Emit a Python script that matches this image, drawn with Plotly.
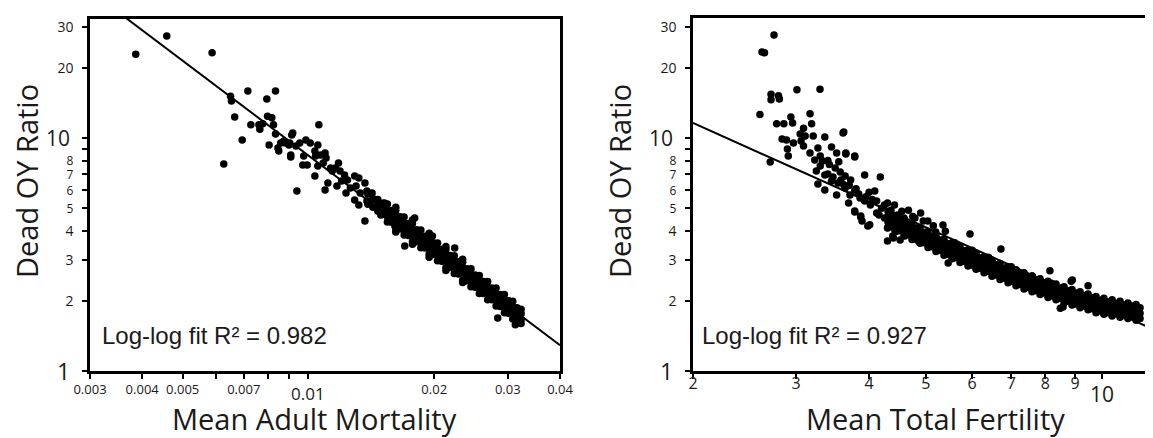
import math
import plotly.graph_objects as go

# ------------------------------------------------------------------ data
# Left panel: Mean Adult Mortality vs Dead OY Ratio (individually read points)
mort_x = [0.00386, 0.00458, 0.00588, 0.00627, 0.00651, 0.00654, 0.00666, 0.00694, 0.00716, 0.00728,
          0.00761, 0.00765, 0.00777, 0.00795, 0.00798, 0.00817, 0.00825, 0.00834, 0.00834, 0.00805,
          0.00849, 0.00858, 0.00880, 0.00907, 0.00907, 0.00912, 0.00898, 0.00938, 0.00933, 0.00845,
          0.00873, 0.00917, 0.00902, 0.00953, 0.00986, 0.01010, 0.00969, 0.00993, 0.00974, 0.01036,
          0.01053, 0.01059, 0.01036, 0.01040, 0.01069, 0.01096, 0.01102, 0.01085, 0.01053, 0.01096,
          0.01113, 0.01130, 0.01140, 0.01160, 0.01180, 0.01190, 0.01220, 0.01200, 0.01170, 0.01240,
          0.01290, 0.01320, 0.01365, 0.01300, 0.01260, 0.01230, 0.01330, 0.01380, 0.01420, 0.01290,
          0.01320, 0.01380, 0.01430, 0.01470, 0.01520, 0.01550, 0.01590, 0.01630, 0.01610, 0.01700,
          0.01490, 0.01550, 0.01660, 0.01387, 0.01387, 0.01426, 0.01426, 0.01466, 0.01466, 0.01466,
          0.01507, 0.01507, 0.01507, 0.01700, 0.02239, 0.02838, 0.03127, 0.01796, 0.01980, 0.01365]
mort_y = [22.9, 27.4, 23.2, 7.73, 15.1, 14.4, 12.3, 9.80, 15.9, 11.4,
          11.4, 10.9, 11.5, 14.7, 12.4, 12.2, 11.4, 15.9, 10.4, 9.33,
          8.80, 9.52, 9.52, 8.45, 8.29, 10.3, 9.33, 5.92, 9.24, 9.06,
          9.71, 10.5, 9.52, 9.52, 9.80, 9.52, 7.66, 7.66, 8.37, 8.80,
          9.33, 11.4, 6.87, 8.37, 8.45, 8.63, 8.21, 7.81, 7.59, 5.98,
          6.41, 7.43, 7.22, 7.43, 7.81, 7.22, 6.94, 6.54, 6.22, 6.60,
          6.87, 6.74, 6.41, 6.22, 6.10, 5.80, 5.80, 5.92, 5.80, 5.42,
          5.16, 5.37, 5.42, 5.01, 5.26, 4.90, 4.77, 4.54, 4.19, 4.11,
          4.67, 4.54, 4.40, 5.20, 5.75, 5.05, 5.50, 4.85, 5.15, 5.45,
          4.70, 4.95, 5.25, 3.44, 3.37, 1.69, 1.58, 4.54, 3.80, 4.40]

# Left panel: dense band, one x per column with the y values read in that column
mort_band_x = [0.01545, 0.01581, 0.01618, 0.01656, 0.01694, 0.01734, 0.01774, 0.01816, 0.01858, 0.01901,
               0.01945, 0.01990, 0.02037, 0.02084, 0.02133, 0.02183, 0.02234, 0.02286, 0.02339, 0.02393,
               0.02449, 0.02506, 0.02564, 0.02624, 0.02685, 0.02748, 0.02812, 0.02877, 0.02944, 0.03013,
               0.03083, 0.03155, 0.03228]
mort_band_y = [[4.36, 4.63, 4.91, 5.21], [4.35, 4.61, 4.89], [3.95, 4.09, 4.34, 4.60, 4.88, 5.05], [4.07, 4.33, 4.59],
               [3.83, 4.07, 4.31, 4.58], [3.82, 4.06, 4.30], [3.50, 3.60, 3.82, 4.05, 4.30, 4.45], [3.59, 3.81, 4.04],
               [3.38, 3.58, 3.80, 4.03], [3.37, 3.57, 3.79], [3.08, 3.17, 3.36, 3.56, 3.78, 3.90], [3.16, 3.35, 3.55],
               [2.97, 3.15, 3.34, 3.54], [2.96, 3.14, 3.33], [2.70, 2.78, 2.95, 3.13, 3.32, 3.42], [2.78, 2.95, 3.13],
               [2.62, 2.78, 2.94, 3.12], [2.61, 2.77, 2.94], [2.40, 2.45, 2.60, 2.76, 2.93, 3.02], [2.44, 2.59, 2.75],
               [2.30, 2.44, 2.59, 2.75], [2.29, 2.43, 2.58], [2.15, 2.29, 2.43, 2.57], [2.15, 2.28, 2.42],
               [2.02, 2.15, 2.28, 2.42], [2.02, 2.14, 2.27], [1.90, 2.01, 2.14, 2.27], [1.89, 2.01, 2.13],
               [1.78, 1.89, 2.00, 2.13], [1.77, 1.88, 2.00], [1.67, 1.77, 1.88, 1.99], [1.66, 1.77, 1.87],
               [1.60, 1.66, 1.76, 1.84]]
mort_fit_x = [0.0035, 0.04]
mort_fit_y = [34.75, 1.29]

# Right panel: Mean Total Fertility vs Dead OY Ratio (individually read points)
tfr_x = [2.751, 2.624, 2.650, 3.011, 3.297, 2.719, 2.719, 2.800, 2.810, 2.603,
         2.710, 2.780, 2.860, 2.940, 2.960, 3.170, 3.190, 3.090, 3.050, 2.840,
         2.890, 2.900, 2.910, 2.970, 3.060, 3.090, 3.170, 3.110, 3.210, 3.360,
         3.610, 3.270, 3.230, 3.300, 3.330, 3.450, 3.520, 3.650, 3.780, 3.250,
         3.300, 3.360, 3.270, 3.360, 3.500, 3.570, 3.450, 3.540, 3.640, 3.720,
         3.930, 4.180, 3.640, 3.710, 3.780, 3.520, 3.690, 3.780, 3.870, 3.980,
         3.860, 3.930, 4.020, 4.090, 4.120, 4.250, 4.300, 4.420, 4.160, 4.250,
         4.300, 4.390, 4.360, 4.480, 4.590, 4.700, 4.830, 4.960, 3.620, 3.780,
         3.650, 3.780, 3.870, 4.010, 5.350, 5.950, 6.720, 8.150, 8.860, 8.580,
         5.040, 9.470, 8.900, 4.400, 5.460, 8.490, 3.890, 4.430, 4.300, 4.520,
         4.120, 4.670, 4.790, 4.900, 3.400, 3.470, 3.580, 3.620, 3.700, 3.800,
         3.840, 3.950, 4.050, 4.000, 4.200, 4.350, 3.420, 3.550, 3.400, 5.200,
         5.600, 6.000, 6.400, 7.000, 7.600, 8.200, 4.550, 4.750, 4.950, 5.150,
         5.400, 4.600, 4.850, 5.100]
tfr_y = [27.7, 23.4, 23.2, 16.1, 16.2, 15.4, 14.6, 15.2, 14.7, 12.6,
         7.89, 11.5, 11.5, 12.3, 11.6, 12.7, 11.5, 11.0, 10.4, 9.90,
         9.80, 8.97, 8.37, 9.52, 9.71, 9.24, 8.63, 10.2, 10.2, 10.1,
         10.5, 9.06, 8.05, 8.37, 7.97, 9.15, 8.63, 8.53, 8.37, 7.22,
         7.59, 6.94, 6.35, 5.98, 7.43, 7.15, 6.54, 6.41, 6.87, 6.60,
         6.94, 6.80, 6.10, 5.70, 5.92, 5.70, 5.26, 4.86, 4.63, 4.19,
         5.53, 5.37, 5.16, 5.92, 5.37, 5.16, 5.26, 5.16, 4.67, 4.54,
         4.11, 3.80, 4.90, 4.67, 4.54, 4.24, 4.11, 3.83, 10.6, 8.29,
         8.63, 4.81, 4.58, 4.24, 4.23, 3.87, 3.34, 2.69, 2.43, 1.88,
         4.40, 2.32, 2.46, 3.72, 2.91, 1.86, 4.40, 3.98, 3.61, 3.65,
         4.77, 4.90, 4.54, 4.77, 7.00, 6.80, 6.60, 6.30, 6.25, 6.05,
         5.75, 5.60, 5.45, 5.85, 5.00, 4.70, 7.70, 7.90, 8.00, 3.95,
         3.55, 3.30, 3.08, 2.80, 2.56, 2.38, 4.85, 4.60, 4.40, 4.20,
         3.98, 3.80, 3.62, 3.44]

# Right panel: dense band, one x per column with the y values read in that column
tfr_band_x = [4.309, 4.377, 4.447, 4.517, 4.589, 4.662, 4.736, 4.811, 4.887, 4.965,
              5.044, 5.124, 5.205, 5.288, 5.372, 5.457, 5.544, 5.632, 5.721, 5.812,
              5.904, 5.998, 6.093, 6.190, 6.288, 6.388, 6.489, 6.592, 6.697, 6.803,
              6.911, 7.021, 7.132, 7.245, 7.360, 7.477, 7.596, 7.716, 7.839, 7.963,
              8.089, 8.218, 8.348, 8.481, 8.615, 8.752, 8.891, 9.032, 9.175, 9.321,
              9.469, 9.619, 9.771, 9.926, 10.08, 10.24, 10.41, 10.57, 10.74, 10.91,
              11.08, 11.26, 11.44, 11.62]
tfr_band_y = [[4.13, 4.35, 4.59, 4.84], [4.16, 4.38, 4.62], [3.97, 4.18, 4.41, 4.65], [4.00, 4.21, 4.44],
              [3.82, 4.02, 4.24, 4.47], [3.84, 4.05, 4.27], [3.67, 3.87, 4.08, 4.29], [3.69, 3.89, 4.10],
              [3.53, 3.72, 3.92, 4.13], [3.55, 3.74, 3.94], [3.39, 3.57, 3.77, 3.97], [3.41, 3.60, 3.79],
              [3.26, 3.43, 3.62, 3.81], [3.29, 3.46, 3.65], [3.14, 3.31, 3.49, 3.68], [3.17, 3.34, 3.52],
              [3.03, 3.20, 3.37, 3.55], [3.06, 3.23, 3.40], [2.92, 3.08, 3.25, 3.42], [2.95, 3.11, 3.28],
              [2.82, 2.98, 3.14, 3.31], [2.85, 3.00, 3.17], [2.73, 2.88, 3.03, 3.20], [2.76, 2.91, 3.06],
              [2.64, 2.78, 2.93, 3.09], [2.67, 2.81, 2.96], [2.55, 2.69, 2.84, 2.99], [2.58, 2.72, 2.86],
              [2.47, 2.60, 2.74, 2.89], [2.50, 2.63, 2.77], [2.39, 2.52, 2.66, 2.80], [2.42, 2.55, 2.69],
              [2.32, 2.45, 2.58, 2.72], [2.35, 2.48, 2.61], [2.25, 2.37, 2.50, 2.64], [2.28, 2.40, 2.53],
              [2.19, 2.30, 2.43, 2.56], [2.21, 2.33, 2.46], [2.13, 2.24, 2.36, 2.49], [2.16, 2.27, 2.39],
              [2.07, 2.18, 2.30, 2.43], [2.10, 2.21, 2.33], [2.02, 2.13, 2.24, 2.36], [2.05, 2.16, 2.27],
              [1.96, 2.07, 2.18, 2.30], [1.99, 2.10, 2.21], [1.92, 2.02, 2.13, 2.24], [1.94, 2.05, 2.16],
              [1.87, 1.97, 2.08, 2.19], [1.90, 2.00, 2.11], [1.83, 1.93, 2.03, 2.14], [1.85, 1.95, 2.06],
              [1.78, 1.88, 1.98, 2.09], [1.81, 1.91, 2.01], [1.75, 1.84, 1.94, 2.05], [1.78, 1.88, 1.98],
              [1.72, 1.82, 1.92, 2.02], [1.76, 1.85, 1.95], [1.70, 1.79, 1.89, 1.99], [1.73, 1.83, 1.92],
              [1.68, 1.77, 1.86, 1.96], [1.71, 1.80, 1.90], [1.65, 1.74, 1.84, 1.93], [1.68, 1.77, 1.87]]
tfr_fit_x = [2.0, 12.62]
tfr_fit_y = [11.6, 1.46]

r2_mort = "0.982"
r2_tfr = "0.927"

# tick labels (the larger decade labels 1, 10, 0.01 and 10 are drawn as annotations)
y_tickvals = [1, 2, 3, 4, 5, 6, 7, 8, 9, 10, 20, 30]
y_ticktext = ['', '2', '3', '4',
              '<span style="font-size:12px">5</span>', '<span style="font-size:12px">6</span>',
              '<span style="font-size:12px">7</span>', '<span style="font-size:12px">8</span>', '',
              '', '20', '30']
y_big_vals = [1, 10]
y_big_text = ['1', '10']
y_big_size = [23, 21]
mort_tickvals = [0.003, 0.004, 0.005, 0.006, 0.007, 0.008, 0.009, 0.01, 0.02, 0.03, 0.04]
mort_ticktext = ['0.003', '0.004', '0.005', '', '0.007', '', '', '', '0.02', '0.03', '0.04']
tfr_tickvals = [2, 3, 4, 5, 6, 7, 8, 9, 10]
tfr_ticktext = ['2', '3', '4', '5', '6', '7', '8', '9', '']

# ------------------------------------------------------------------ figure
W, H = 1153, 438
FONT = "Open Sans"
INK = "#1a1a1a"


def flatten(xs, yss):
    fx, fy = [], []
    for x, ys in zip(xs, yss):
        for y in ys:
            fx.append(x)
            fy.append(y)
    return fx, fy


mbx, mby = flatten(mort_band_x, mort_band_y)
tbx, tby = flatten(tfr_band_x, tfr_band_y)

marker = dict(color="black", size=7.5, line=dict(width=0))

fig = go.Figure()
fig.add_trace(go.Scatter(x=mort_x + mbx, y=mort_y + mby, mode="markers", marker=marker,
                         xaxis="x", yaxis="y", showlegend=False))
fig.add_trace(go.Scatter(x=mort_fit_x, y=mort_fit_y, mode="lines", line=dict(color="black", width=2),
                         xaxis="x", yaxis="y", showlegend=False))
fig.add_trace(go.Scatter(x=tfr_x + tbx, y=tfr_y + tby, mode="markers", marker=marker,
                         xaxis="x2", yaxis="y2", showlegend=False))
fig.add_trace(go.Scatter(x=tfr_fit_x, y=tfr_fit_y, mode="lines", line=dict(color="black", width=2),
                         xaxis="x2", yaxis="y2", showlegend=False))

axis_common = dict(showgrid=False, zeroline=False, showline=True, linecolor="black", linewidth=2.5,
                   ticks="outside", ticklen=5, tickwidth=2, tickcolor="black", automargin=False,
                   tickfont=dict(family=FONT, size=14, color=INK))

fig.update_layout(
    template="none",
    width=W, height=H,
    margin=dict(l=0, r=0, t=0, b=0),
    paper_bgcolor="white", plot_bgcolor="white",
    showlegend=False,
    xaxis=dict(axis_common, type="log", domain=[82 / W, 552 / W], anchor="y", mirror=True,
               range=[math.log10(0.003), math.log10(0.04)],
               tickmode="array", tickvals=mort_tickvals, ticktext=mort_ticktext,
               tickfont=dict(family=FONT, size=13, color=INK)),
    yaxis=dict(axis_common, type="log", domain=[75 / H, 427 / H], anchor="x", mirror=True,
               range=[0, 1.5107], tickmode="array", tickvals=y_tickvals, ticktext=y_ticktext,
               ticklabelstandoff=6),
    xaxis2=dict(axis_common, type="log", domain=[685 / W, 1.0], anchor="y2", mirror=True,
                range=[math.log10(2), math.log10(2) + 0.8],
                tickmode="array", tickvals=tfr_tickvals, ticktext=tfr_ticktext,
                tickfont=dict(family=FONT, size=16, color=INK), ticklabelstandoff=-9),
    yaxis2=dict(axis_common, type="log", domain=[75 / H, 428 / H], anchor="x2", mirror=False,
                range=[0, 1.515], tickmode="array", tickvals=y_tickvals, ticktext=y_ticktext,
                ticklabelstandoff=6),
)

ann = []
title_font = dict(family=FONT, size=29, color=INK)
for xc in (19, 612):
    ann.append(dict(text="Dead OY Ratio", x=xc / W, y=(H - 173) / H, xref="paper", yref="paper",
                    textangle=-90, showarrow=False, font=title_font, xanchor="center", yanchor="middle",
                    borderpad=0))
ann.append(dict(text="Mean Adult Mortality", x=306 / W, y=(H - 410) / H, xref="paper", yref="paper",
                showarrow=False, font=title_font, xanchor="center", yanchor="middle"))
ann.append(dict(text="Mean Total Fertility", x=927 / W, y=(H - 410) / H, xref="paper", yref="paper",
                showarrow=False, font=title_font, xanchor="center", yanchor="middle"))
r2_font = dict(family="Liberation Sans", size=24, color=INK)
ann.append(dict(text="Log-log fit R² = " + r2_mort, x=92 / W, y=(H - 327) / H, xref="paper", yref="paper",
                showarrow=False, font=r2_font, xanchor="left", yanchor="middle"))
ann.append(dict(text="Log-log fit R² = " + r2_tfr, x=692 / W, y=(H - 327) / H, xref="paper", yref="paper",
                showarrow=False, font=r2_font, xanchor="left", yanchor="middle"))
# larger decade tick labels
ann.append(dict(text="0.01", x=math.log10(0.01), y=(H - 385) / H, xref="x", yref="paper",
                showarrow=False, font=dict(family=FONT, size=17, color=INK), xanchor="center", yanchor="middle"))
ann.append(dict(text="10", x=math.log10(10), y=(H - 386) / H, xref="x2", yref="paper",
                showarrow=False, font=dict(family=FONT, size=21, color=INK), xanchor="center", yanchor="middle"))
for yref, xr in (("y", 64), ("y2", 667)):
    for v, t, s in zip(y_big_vals, y_big_text, y_big_size):
        ann.append(dict(text=t, x=xr / W, y=math.log10(v), xref="paper", yref=yref,
                        showarrow=False, font=dict(family=FONT, size=s, color=INK),
                        xanchor="right", yanchor="middle"))
fig.update_layout(annotations=ann)

fig.write_html("out.html")
